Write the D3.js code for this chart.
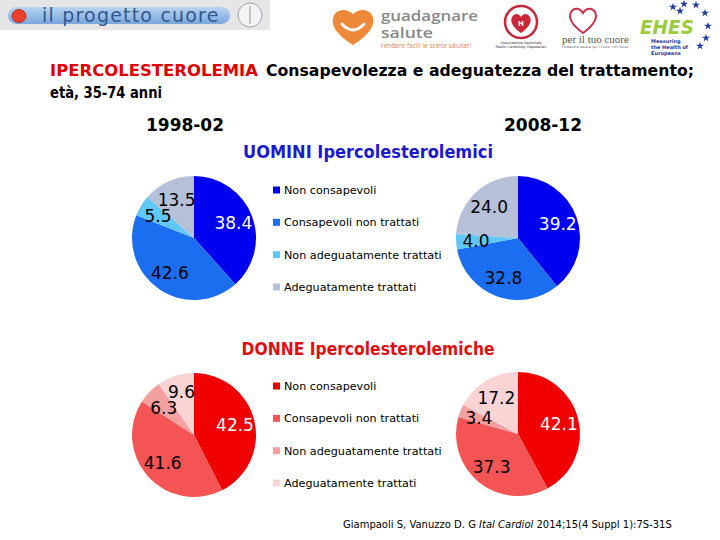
<!DOCTYPE html>
<html>
<head>
<meta charset="utf-8">
<script src="https://cdn.jsdelivr.net/npm/d3@7"></script>
<style>
html,body{margin:0;padding:0;background:#fff;}
svg{display:block;}
</style>
</head>
<body>
<svg id="chart" width="720" height="540"></svg>
<script>
// ---- Data ----
const categories = ["Non consapevoli", "Consapevoli non trattati", "Non adeguatamente trattati", "Adeguatamente trattati"];
const periods = ["1998-02", "2008-12"];
const men1998 = [38.4, 42.6, 5.5, 13.5];
const men2008 = [39.2, 32.8, 4.0, 24.0];
const women1998 = [42.5, 41.6, 6.3, 9.6];
const women2008 = [42.1, 37.3, 3.4, 17.2];
const menTitle = "UOMINI Ipercolesterolemici";
const womenTitle = "DONNE Ipercolesterolemiche";
const menColors = ["#0000f0", "#1c6ef0", "#60c8f8", "#b6c0d8"];
const womenColors = ["#f00000", "#f45454", "#f4a0a0", "#fad4d4"];

const svg = d3.select("#chart");
const uiFont = "'DejaVu Sans', Verdana, sans-serif";

// ---- Header logos (decorative) ----
const logo = svg.append("g");
const lg1 = logo.append("defs").append("linearGradient").attr("id","pill").attr("x1",0).attr("y1",0).attr("x2",0).attr("y2",1);
lg1.append("stop").attr("offset","0").attr("stop-color","#b8d4f0");
lg1.append("stop").attr("offset","1").attr("stop-color","#7aa6dc");
logo.append("rect").attr("x",0).attr("y",0).attr("width",270).attr("height",30).attr("fill","#e6e6e6");
logo.append("rect").attr("x",8).attr("y",7).attr("width",222).attr("height",17).attr("rx",8.5).attr("fill","url(#pill)");
logo.append("ellipse").attr("cx",19).attr("cy",16).attr("rx",7).attr("ry",6.5).attr("fill","#e8402a").attr("stroke","#c03020").attr("stroke-width",1);
logo.append("text").attr("x",42).attr("y",22).attr("font-family",uiFont)
  .attr("font-size",19).attr("letter-spacing",1.2).attr("fill","#34578e").text("il progetto cuore");
logo.append("circle").attr("cx",250).attr("cy",15).attr("r",12).attr("fill","#f4f4f4").attr("stroke","#9aa4b4").attr("stroke-width",1);
logo.append("line").attr("x1",250).attr("y1",6).attr("x2",250).attr("y2",24).attr("stroke","#8a96aa").attr("stroke-width",1);

// guadagnare salute
logo.append("path").attr("d","M353,45 C338,36 331,26 333,18 C335,10 345,7 353,14 C361,7 371,10 373,18 C375,26 368,36 353,45 Z")
  .attr("fill","#f0883a");
logo.append("path").attr("d","M342,24 Q353,36 364,24").attr("fill","none").attr("stroke","#fff").attr("stroke-width",3).attr("stroke-linecap","round");
logo.append("text").attr("x",381).attr("y",21).attr("font-family","'Open Sans', sans-serif").attr("font-size",13.5).attr("font-weight","600").attr("fill","#888")
  .attr("textLength",97).attr("lengthAdjust","spacingAndGlyphs").text("guadagnare");
logo.append("text").attr("x",381).attr("y",38).attr("font-family","'Open Sans', sans-serif").attr("font-size",13.5).attr("font-weight","600").attr("fill","#888")
  .attr("textLength",52).attr("lengthAdjust","spacingAndGlyphs").text("salute");
logo.append("text").attr("x",381).attr("y",48).attr("font-family","'Open Sans', sans-serif").attr("font-size",6.5).attr("fill","#e8873a").text("rendere facili le scelte salutari");

// ANMCO
logo.append("circle").attr("cx",521).attr("cy",22).attr("r",16).attr("fill","#fff").attr("stroke","#c8283a").attr("stroke-width",2.5);
logo.append("path").attr("d","M521,33 C512,27 510,21 512,17 C514,13 519,13 521,17 C523,13 528,13 530,17 C532,21 530,27 521,33 Z").attr("fill","#c8283a");
logo.append("text").attr("x",521).attr("y",26).attr("text-anchor","middle").attr("font-family",uiFont).attr("font-size",7).attr("font-weight","bold").attr("fill","#fff").text("H");
logo.append("text").attr("x",521).attr("y",44).attr("text-anchor","middle").attr("font-family",uiFont).attr("font-size",3.5).attr("fill","#333").text("Associazione Nazionale");
logo.append("text").attr("x",521).attr("y",48).attr("text-anchor","middle").attr("font-family",uiFont).attr("font-size",3.5).attr("fill","#333").text("Medici Cardiologi Ospedalieri");

// per il tuo cuore
logo.append("path").attr("d","M583,33 C572,25 568,18 571,12 C574,7 580,8 583,13 C586,8 592,7 595,12 C598,18 594,25 583,33 Z")
  .attr("fill","none").attr("stroke","#d0304a").attr("stroke-width",2);
logo.append("text").attr("x",562).attr("y",43).attr("font-family","'Liberation Serif', serif").attr("font-size",11).attr("fill","#555").text("per il tuo cuore");
logo.append("text").attr("x",562).attr("y",48).attr("font-family",uiFont).attr("font-size",3).attr("fill","#555").text("Fondazione Italiana per il Cuore - HCF Onlus");

// EHES
const starPts = [[673,7],[684,4],[696,5],[705,13],[708,26],[706,38],[700,46],[680,11]];
starPts.forEach(p=>{
  logo.append("path").attr("d", d3.symbol().type(d3.symbolStar).size(20)()).attr("transform",`translate(${p[0]},${p[1]})`).attr("fill","#1c3c9c");
});
logo.append("text").attr("x",640).attr("y",34).attr("font-family",uiFont).attr("font-size",19).attr("font-weight","bold").attr("font-style","italic").attr("fill","#9ccc3c")
  .attr("textLength",54).attr("lengthAdjust","spacingAndGlyphs").text("EHES");
["Measuring","the Health of","Europeans"].forEach((t,i)=>{
  logo.append("text").attr("x",651).attr("y",43+i*6).attr("font-family",uiFont).attr("font-size",5).attr("font-weight","bold").attr("fill","#1c3c9c").text(t);
});

// ---- Title ----
const title = svg.append("text").attr("y",76).attr("font-family",uiFont).attr("font-size",16).attr("font-weight","bold");
title.append("tspan").attr("x",50).attr("fill","#e00000").attr("textLength",208).attr("lengthAdjust","spacingAndGlyphs").text("IPERCOLESTEROLEMIA");
title.append("tspan").attr("x",266).attr("fill","#000").attr("textLength",428).attr("lengthAdjust","spacingAndGlyphs").text("Consapevolezza e adeguatezza del trattamento;");
svg.append("text").attr("x",50).attr("y",98).attr("font-family",uiFont).attr("font-size",16).attr("font-weight","bold")
  .attr("textLength",112).attr("lengthAdjust","spacingAndGlyphs").text("età, 35-74 anni");

// Period headings
const periodX = d3.scalePoint().domain(periods).range([185, 543]);
periods.forEach(p=>{
  svg.append("text").attr("x",periodX(p)).attr("y",131).attr("text-anchor","middle").attr("font-family",uiFont)
    .attr("font-size",17).attr("font-weight","bold").attr("fill","#000").text(p);
});

// ---- Pies ----
const pieCx = d3.scalePoint().domain(periods).range([194, 518]);
const R = 62;
const pie = d3.pie().sort(null).value(d=>d);
const arc = d3.arc().innerRadius(0).outerRadius(R);
const labelArc = d3.arc().innerRadius(R*0.68).outerRadius(R*0.68);

function drawPie(values, colors, cx, cy){
  const g = svg.append("g").attr("transform",`translate(${cx},${cy})`);
  const arcs = pie(values);
  g.selectAll("path").data(arcs).join("path").attr("d",arc).attr("fill",(d,i)=>colors[i]);
  const labels = g.selectAll("text").data(arcs).join("text")
    .attr("text-anchor","middle").attr("dy","0.36em")
    .attr("font-family",uiFont).attr("font-size",17)
    .attr("fill",(d,i)=> i===0 ? "#fff" : "#000")
    .text(d=>d3.format(".1f")(d.data));
  // label positions from centroids, then relax vertical collisions
  const pos = arcs.map(d=>labelArc.centroid(d));
  const widths = labels.nodes().map(n=>n.getComputedTextLength());
  const lineH = 16;
  for(let iter=0; iter<20; iter++){
    for(let i=0;i<pos.length;i++){
      for(let j=i+1;j<pos.length;j++){
        const dx = Math.abs(pos[i][0]-pos[j][0]);
        const dy = pos[j][1]-pos[i][1];
        if(dx < (widths[i]+widths[j])/2 && Math.abs(dy) < lineH){
          const push = (lineH-Math.abs(dy))/2;
          const s = dy >= 0 ? 1 : -1;
          pos[i][1] -= s*push; pos[j][1] += s*push;
        }
      }
    }
  }
  labels.attr("transform",(d,i)=>`translate(${pos[i]})`);
}

function drawLegend(colors, y0){
  const ly = d3.scalePoint().domain(categories).range([y0, y0+97]);
  const g = svg.append("g");
  categories.forEach((c,i)=>{
    g.append("rect").attr("x",273).attr("y",ly(c)-3.5).attr("width",7).attr("height",7).attr("fill",colors[i]);
    g.append("text").attr("x",284).attr("y",ly(c)).attr("dy","0.35em").attr("font-family",uiFont)
      .attr("font-size",11.2).attr("fill","#000").text(c);
  });
}

// Men
svg.append("text").attr("x",368).attr("y",158).attr("text-anchor","middle").attr("font-family",uiFont)
  .attr("font-size",17).attr("font-weight","bold").attr("fill","#1a1ad0")
  .attr("textLength",250).attr("lengthAdjust","spacingAndGlyphs").text(menTitle);
drawPie(men1998, menColors, pieCx(periods[0]), 238);
drawPie(men2008, menColors, pieCx(periods[1]), 238);
drawLegend(menColors, 190);

// Women
svg.append("text").attr("x",368).attr("y",355).attr("text-anchor","middle").attr("font-family",uiFont)
  .attr("font-size",17).attr("font-weight","bold").attr("fill","#e01010")
  .attr("textLength",253).attr("lengthAdjust","spacingAndGlyphs").text(womenTitle);
drawPie(women1998, womenColors, pieCx(periods[0]), 435);
drawPie(women2008, womenColors, pieCx(periods[1]), 434);
drawLegend(womenColors, 386);

// Citation
const cit = svg.append("text").attr("x",343).attr("y",528).attr("font-family",uiFont).attr("font-size",10).attr("fill","#000");
cit.append("tspan").text("Giampaoli S, Vanuzzo D. G ");
cit.append("tspan").attr("font-style","italic").text("Ital Cardiol");
cit.append("tspan").text(" 2014;15(4 Suppl 1):7S-31S");
</script>
</body>
</html>
